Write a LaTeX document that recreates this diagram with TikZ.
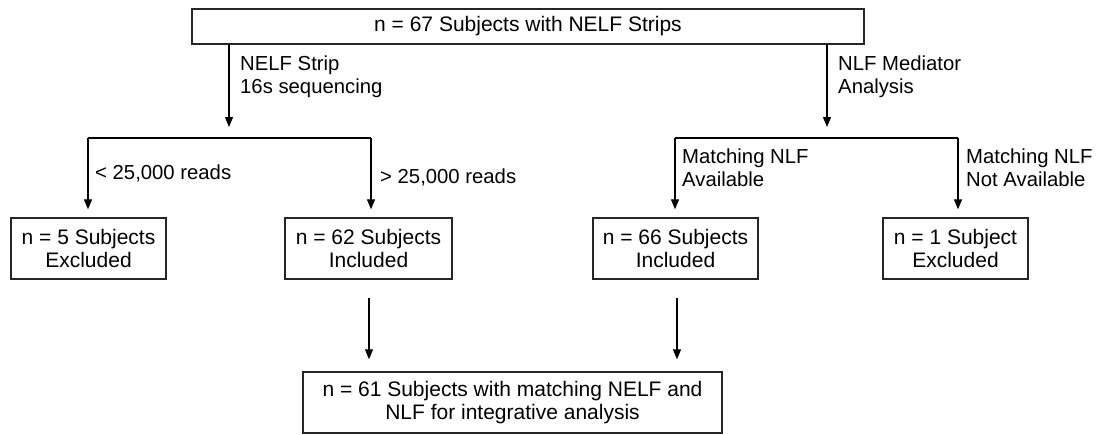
\documentclass[tikz,border=0pt]{standalone}
\usepackage{fontspec}
\setmainfont{Liberation Sans}
\usetikzlibrary{arrows.meta}
\tikzset{
  box/.style={draw=black!85, line width=1.4pt, minimum height=61pt, inner sep=0pt, align=center, font=\fontsize{21}{23.5}\selectfont},
  lbl/.style={anchor=west, inner sep=0pt, align=left, font=\fontsize{20.3}{23}\selectfont},
  conn/.style={draw=black, line width=1.2pt},
  arr/.style={conn, -{Triangle[length=10pt,width=8pt]}}
}
\begin{document}
\begin{tikzpicture}[x=1pt,y=-1pt]
\useasboundingbox (0,0) rectangle (1099,434);
% boxes
\node[box, minimum width=672pt, minimum height=35pt] (top) at (528,26.5) {n = 67 Subjects with NELF Strips};
\node[box, minimum width=155pt] (b5) at (88.5,248.5) {n = 5 Subjects\\Excluded};
\node[box, minimum width=167pt] (b62) at (368.5,248.5) {n = 62 Subjects\\Included};
\node[box, minimum width=165pt] (b66) at (675.5,248.5) {n = 66 Subjects\\Included};
\node[box, minimum width=145pt] (b1) at (955.5,248.5) {n = 1 Subject\\Excluded};
\node[box, minimum width=419pt] (b61) at (512.5,402.5) {n = 61 Subjects with matching NELF and\\NLF for integrative analysis};
% labels
\node[lbl] (l1) at (240,77) {NELF Strip\\16s sequencing};
\node[lbl] (l2) at (838,77) {NLF Mediator\\Analysis};
\node[lbl] (l3) at (95,173) {< 25,000 reads};
\node[lbl] (l4) at (380,177) {> 25,000 reads};
\node[lbl] (l5) at (682,167.5) {Matching NLF\\Available};
\node[lbl] (l6) at (966,167.5) {Matching NLF\\Not Available};
% coordinates
\coordinate (ltip) at (229,127);
\coordinate (rtip) at (827,127);
\coordinate (lbarL) at (88,138);
\coordinate (lbarR) at (371,138);
\coordinate (rbarL) at (675,138);
\coordinate (rbarR) at (958,138);
\coordinate (m1) at (369,298);
\coordinate (m2) at (677,298);
% connectors
\draw[arr] (top.south -| ltip) -- (ltip);
\draw[arr] (top.south -| rtip) -- (rtip);
\draw[conn] (lbarL) -- (lbarR);
\draw[conn] (rbarL) -- (rbarR);
\draw[arr, shorten >=8pt] (lbarL) -- (lbarL |- b5.north);
\draw[arr, shorten >=8pt] (lbarR) -- (lbarR |- b62.north);
\draw[arr, shorten >=8pt] (rbarL) -- (rbarL |- b66.north);
\draw[arr, shorten >=8pt] (rbarR) -- (rbarR |- b1.north);
\draw[arr, shorten >=12pt] (m1) -- (m1 |- b61.north);
\draw[arr, shorten >=12pt] (m2) -- (m2 |- b61.north);
\end{tikzpicture}
\end{document}
